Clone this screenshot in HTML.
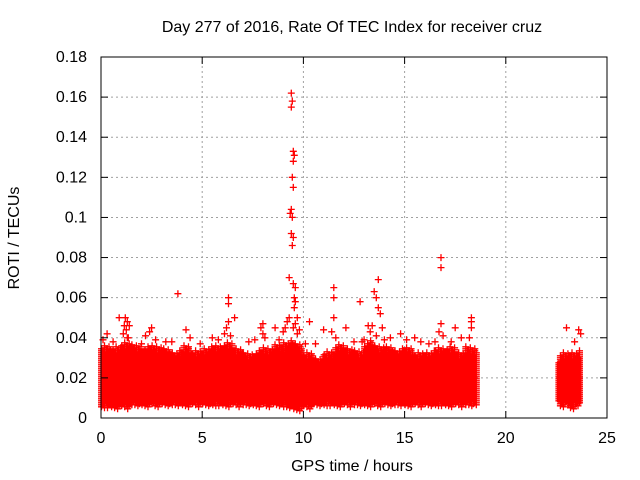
<!DOCTYPE html>
<html><head><meta charset="utf-8"><style>
body{margin:0;background:#fff;}
svg{display:block;font-family:"Liberation Sans",sans-serif;}
</style></head><body>
<svg id="chart" width="640" height="480">
<rect width="640" height="480" fill="#fff"/>
<text x="352" y="32" font-size="16" text-anchor="middle">Day 277 of 2016, Rate Of TEC Index for receiver cruz</text>
<text x="352" y="471" font-size="16" text-anchor="middle">GPS time / hours</text>
<text transform="translate(19,238) rotate(-90)" font-size="16" text-anchor="middle">ROTI / TECUs</text>
<g id="grid"></g><g id="marks"></g><g id="axes"></g>
</svg>
<script>
const xTicks=[0,5,10,15,20,25];
const yTicks=[0,0.02,0.04,0.06,0.08,0.1,0.12,0.14,0.16,0.18];
const yTickLabels=["0","0.02","0.04","0.06","0.08","0.1","0.12","0.14","0.16","0.18"];
const binStart=[0,0.5,1,1.5,2,2.5,3,3.5,4,4.5,5,5.5,6,6.5,7,7.5,8,8.5,9,9.5,10,10.5,11,11.5,12,12.5,13,13.5,14,14.5,15,15.5,16,16.5,17,17.5,18,22.6,23.1];
const binEnd=[0.5,1,1.5,2,2.5,3,3.5,4,4.5,5,5.5,6,6.5,7,7.5,8,8.5,9,9.5,10,10.5,11,11.5,12,12.5,13,13.5,14,14.5,15,15.5,16,16.5,17,17.5,18,18.6,23.1,23.7];
const binTop=[0.034,0.033,0.036,0.034,0.033,0.034,0.032,0.031,0.034,0.031,0.033,0.034,0.035,0.033,0.030,0.031,0.033,0.034,0.036,0.035,0.030,0.028,0.031,0.034,0.033,0.031,0.036,0.034,0.033,0.032,0.033,0.030,0.031,0.033,0.033,0.031,0.033,0.030,0.031];
const binBottom=[0.006,0.006,0.006,0.007,0.007,0.007,0.007,0.007,0.007,0.007,0.007,0.007,0.007,0.007,0.007,0.007,0.007,0.007,0.006,0.005,0.006,0.007,0.007,0.007,0.007,0.007,0.007,0.007,0.007,0.007,0.007,0.007,0.007,0.007,0.007,0.007,0.007,0.007,0.006];
const outX=[9.4,9.45,9.4,9.5,9.55,9.5,9.45,9.5,9.4,9.35,9.45,9.4,9.5,9.45,9.3,9.5,9.6,9.55,9.6,9.55,9.3,9.2,9.5,3.8,6.3,6.3,6.6,11.5,11.5,11.5,13.5,13.6,13.7,13.7,13.8,12.8,16.8,16.8,16.8,18.3,18.3,17.5,1.2,1.3,0.9,1.4,2.5,8,7.9,10.3,12.1,14.8,15.5,23,23.6,23.7,0.3,5.5,8.6,9.7,6.2,11.0,13.2,
 1.1,1.25,1.35,2.2,2.7,3.2,4.4,4.9,5.8,6.1,6.4,7.3,8.1,8.8,9.0,9.7,9.8,10.6,11.6,12.5,13.0,13.3,13.9,14.3,15.1,16.2,16.9,17.3,17.8,18.2,0.1,0.6,2.0,3.5,7.6,10.1,12.9,14.0,16.5,23.4,
 1.15,1.3,2.4,4.2,6.3,8.0,9.1,9.6,11.4,13.4,13.6,15.8,16.7,18.3];
const outY=[0.162,0.158,0.155,0.133,0.131,0.128,0.12,0.115,0.104,0.102,0.1,0.092,0.09,0.086,0.07,0.067,0.065,0.06,0.058,0.055,0.05,0.048,0.045,0.062,0.06,0.057,0.05,0.065,0.06,0.05,0.063,0.06,0.069,0.055,0.052,0.058,0.08,0.075,0.047,0.05,0.048,0.045,0.05,0.048,0.05,0.046,0.045,0.047,0.045,0.048,0.045,0.042,0.04,0.045,0.044,0.042,0.042,0.04,0.045,0.05,0.045,0.044,0.046,
 0.042,0.044,0.04,0.041,0.039,0.038,0.04,0.037,0.039,0.042,0.041,0.038,0.04,0.039,0.043,0.042,0.044,0.037,0.04,0.038,0.039,0.043,0.045,0.04,0.039,0.037,0.041,0.038,0.04,0.04,0.039,0.038,0.037,0.038,0.039,0.037,0.038,0.039,0.038,0.038,
 0.046,0.04,0.043,0.044,0.048,0.042,0.045,0.047,0.043,0.046,0.041,0.038,0.043,0.045];
const X0=101,X1=607,Y0=418,Y1=57;
const sx=v=>X0+(v-0)/25*(X1-X0);
const sy=v=>Y0-(v/0.18)*(Y0-Y1);
const NS="http://www.w3.org/2000/svg";
const grid=document.getElementById('grid'),axes=document.getElementById('axes'),marks=document.getElementById('marks');
function mk(tag,attrs,parent){const e=document.createElementNS(NS,tag);for(const k in attrs)e.setAttribute(k,attrs[k]);parent.appendChild(e);return e;}
xTicks.forEach((t,i)=>{const x=sx(t);
 if(i>0&&i<xTicks.length-1){const g=mk('line',{x1:x,x2:x,y1:Y0,y2:Y1,stroke:'#a0a0a0','stroke-dasharray':'2,3'},grid);}
 mk('line',{x1:x,x2:x,y1:Y0,y2:Y0-7,stroke:'#000'},axes);mk('line',{x1:x,x2:x,y1:Y1,y2:Y1+7,stroke:'#000'},axes);
 const l=mk('text',{x:x,y:443,'font-size':16,'text-anchor':'middle'},axes);l.textContent=t;
 });
yTicks.forEach((t,i)=>{const y=sy(t);
 if(i>0&&i<yTicks.length-1){const g=mk('line',{x1:X0,x2:X1,y1:y,y2:y,stroke:'#a0a0a0','stroke-dasharray':'2,3'},grid);}
 mk('line',{x1:X0,x2:X0+7,y1:y,y2:y,stroke:'#000'},axes);mk('line',{x1:X1,x2:X1-7,y1:y,y2:y,stroke:'#000'},axes);
 const l=mk('text',{x:87,y:y+5,'font-size':16,'text-anchor':'end'},axes);l.textContent=yTickLabels[i];
 });
const fr=mk('rect',{x:X0,y:Y1,width:X1-X0,height:Y0-Y1,fill:'none',stroke:'#000'},axes);

let d='',k=0;
function cross(x,y){d+=`M${(x-3.5).toFixed(1)} ${y.toFixed(1)}h7M${x.toFixed(1)} ${(y-3.5).toFixed(1)}v7`;}
binStart.forEach((s,i)=>{const xa=sx(s),xb=sx(binEnd[i]);const ya=sy(binTop[i]),yb=sy(binBottom[i]);
 for(let x=xa+0.5;x<=xb;x+=1.5){k++;const wob=((k*37)%11)-5;const wb=((k*53)%7)-3;
  for(let y=ya+wob;y<=yb+wb;y+=2)cross(x,y);}});
outX.forEach((v,i)=>cross(sx(v),sy(outY[i])));
const p=mk('path',{d:d,stroke:'#ff0000','stroke-width':1.3,fill:'none'},marks);

</script>
</body></html>
